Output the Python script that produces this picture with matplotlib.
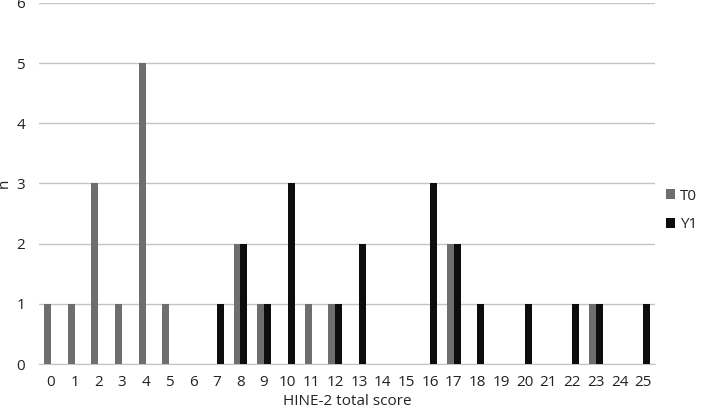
import matplotlib
matplotlib.use("Agg")
import matplotlib.pyplot as plt
import numpy as np

scores = list(range(26))
t0 = [1, 1, 3, 1, 5, 1, 0, 0, 2, 1, 0, 1, 1, 0, 0, 0, 0, 2, 0, 0, 0, 0, 0, 1, 0, 0]
y1 = [0, 0, 0, 0, 0, 0, 0, 1, 2, 1, 3, 0, 1, 2, 0, 0, 3, 2, 1, 0, 1, 0, 1, 1, 0, 1]
yticks = [0, 1, 2, 3, 4, 5, 6]

plt.rcParams['font.family'] = ['Open Sans', 'DejaVu Sans']

fig = plt.figure(figsize=(7.09, 4.12), dpi=100)
ax = fig.add_axes([0.055, 0.1165, 0.869, 0.8765])

x = np.arange(len(scores))
w = 0.29
ax.bar(x - w / 2, t0, width=w, color='#6e6e6e', label='T0', zorder=3)
ax.bar(x + w / 2, y1, width=w, color='#0d0d0d', label='Y1', zorder=3)

ax.set_xlim(-0.5, len(scores) - 0.5)
ax.set_ylim(0, 6)
ax.set_yticks(yticks)
ax.set_xticks(x)
ax.set_xticklabels([str(s) for s in scores])
ax.yaxis.grid(True, color='#c4c4c4', linewidth=1, zorder=0)
for s in ['top', 'right', 'left']:
    ax.spines[s].set_visible(False)
ax.spines['bottom'].set_color('#c4c4c4')
ax.tick_params(axis='both', length=0, labelsize=11, colors='#222222')
ax.tick_params(axis='x', pad=8)
ax.tick_params(axis='y', pad=10)
ax.set_xlabel('HINE-2 total score', fontsize=11, color='#222222', labelpad=3)
ax.set_ylabel('n', fontsize=11, color='#222222', labelpad=3)

leg = ax.legend(loc='center left', bbox_to_anchor=(0.995, 0.425), frameon=False,
                fontsize=11, handlelength=0.6, handleheight=0.6,
                handletextpad=0.3, labelspacing=0.9)
for t in leg.get_texts():
    t.set_color('#222222')

fig.savefig('out.png', dpi=100)
